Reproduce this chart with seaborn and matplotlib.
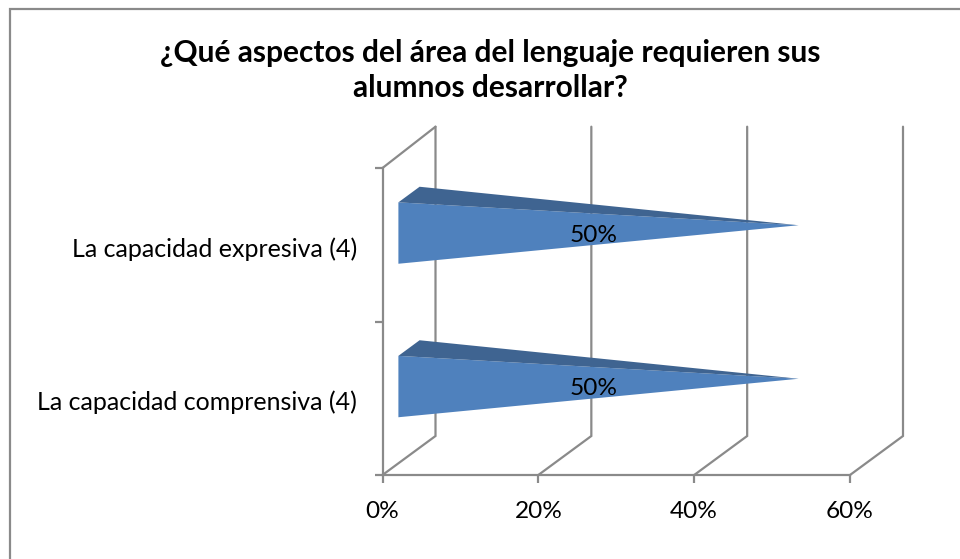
import matplotlib.pyplot as plt
import matplotlib.transforms as mtrans
import pandas as pd
import seaborn as sns
from matplotlib.patches import Polygon, Rectangle

OUTPUT_FILE = 'out.png'

TITLE = '¿Qué aspectos del área del lenguaje requieren sus\nalumnos desarrollar?'
CATEGORIES = ['La capacidad expresiva (4)', 'La capacidad comprensiva (4)']
VALUES = [50, 50]
X_TICKS = [0, 20, 40, 60]

W, H = 960, 559
GREY = '#8a8a8a'
FRONT = '#4f81bd'
TOP = '#3f6491'
LINE = 1.6
LABEL_SIZE = 17.6

# plot box in pixels (front plane of the fake 3D chart)
LEFT, RIGHT, UPPER, LOWER = 382.5, 850, 168, 475
DEPTH_X = 53 / (RIGHT - LEFT) * 60
DEPTH_Y = -39 / ((LOWER - UPPER) / 2)


def plot_chart():
    sns.set_style('white')
    plt.rcParams['font.family'] = ['Lato', 'DejaVu Sans']

    fig = plt.figure(figsize=(W / 100, H / 100), dpi=100)
    ax = fig.add_axes([LEFT / W, 1 - LOWER / H, (RIGHT - LEFT) / W, (LOWER - UPPER) / H])
    ax.patch.set_alpha(0)

    df = pd.DataFrame({'categoria': CATEGORIES, 'valor': VALUES})
    sns.barplot(data=df, x='valor', y='categoria', orient='h', width=0.4, color=FRONT, ax=ax)

    ax.set_xlim(0, 60)
    ax.set_ylim(1.5, -0.5)
    ax.set_xlabel('')
    ax.set_ylabel('')

    # Walls and floor
    for x in X_TICKS:
        ax.plot([x, x + DEPTH_X, x + DEPTH_X], [1.5, 1.5 + DEPTH_Y, -0.515 + DEPTH_Y],
                color=GREY, lw=LINE, clip_on=False, zorder=1, solid_joinstyle='miter')
    ax.plot([0, DEPTH_X], [-0.5, -0.515 + DEPTH_Y], color=GREY, lw=LINE, clip_on=False, zorder=1)

    # Turn each flat bar into a cone lying on its side
    bars = list(ax.patches)
    for bar, val in zip(bars, VALUES):
        v = bar.get_width()
        h = bar.get_height()
        yc = bar.get_y() + h / 2
        bar.remove()
        base_x = 0.3 * DEPTH_X
        base_y = yc + 0.3 * DEPTH_Y
        tip = (v + 0.5 * DEPTH_X, yc + 0.5 * DEPTH_Y)
        ax.add_patch(Polygon([(base_x, base_y - h / 2), (base_x, base_y + h / 2), tip],
                             closed=True, fc=FRONT, ec='none', clip_on=False, zorder=3))
        ax.add_patch(Polygon([(base_x, base_y - h / 2),
                              (0.7 * DEPTH_X, yc - h / 2 + 0.7 * DEPTH_Y), tip],
                             closed=True, fc=TOP, ec='none', clip_on=False, zorder=3))
        ax.text(v / 2 + base_x, base_y, f'{val}%', ha='center', va='center_baseline',
                fontsize=LABEL_SIZE, color='black', zorder=4)

    # Axes
    for side in ['top', 'right']:
        ax.spines[side].set_visible(False)
    for side in ['left', 'bottom']:
        ax.spines[side].set_color(GREY)
        ax.spines[side].set_linewidth(LINE)

    ax.set_xticks(X_TICKS)
    ax.set_xticklabels([f'{x}%' for x in X_TICKS], fontsize=LABEL_SIZE, color='black')
    ax.tick_params(axis='x', bottom=True, length=5.5, width=LINE, color=GREY, pad=13)

    ax.set_yticks([0, 1])
    ax.set_yticklabels(CATEGORIES, fontsize=18, color='black', va='center_baseline')
    ax.tick_params(axis='y', which='major', left=False, pad=15)
    ax.set_yticks([-0.5, 0.5, 1.5], minor=True)
    ax.tick_params(axis='y', which='minor', left=True, length=5.5, width=LINE, color=GREY)

    # labels sit a little below the row centre in the original
    nudge = mtrans.ScaledTranslation(0, -2 / 100, fig.dpi_scale_trans)
    for label in ax.get_yticklabels():
        label.set_transform(label.get_transform() + nudge)

    # Frame of the original picture, cut off at right and bottom
    fig.add_artist(Rectangle((9.5 / W, -0.1), 2, 1.1 - 8.5 / H, transform=fig.transFigure,
                             fc='none', ec=GREY, lw=LINE))

    fig.text(490 / W, 1 - 70.5 / H, TITLE, ha='center', va='center', fontsize=21.5,
             fontweight='bold', color='black', linespacing=1.3)

    plt.savefig(OUTPUT_FILE, dpi=100)


if __name__ == '__main__':
    plot_chart()
